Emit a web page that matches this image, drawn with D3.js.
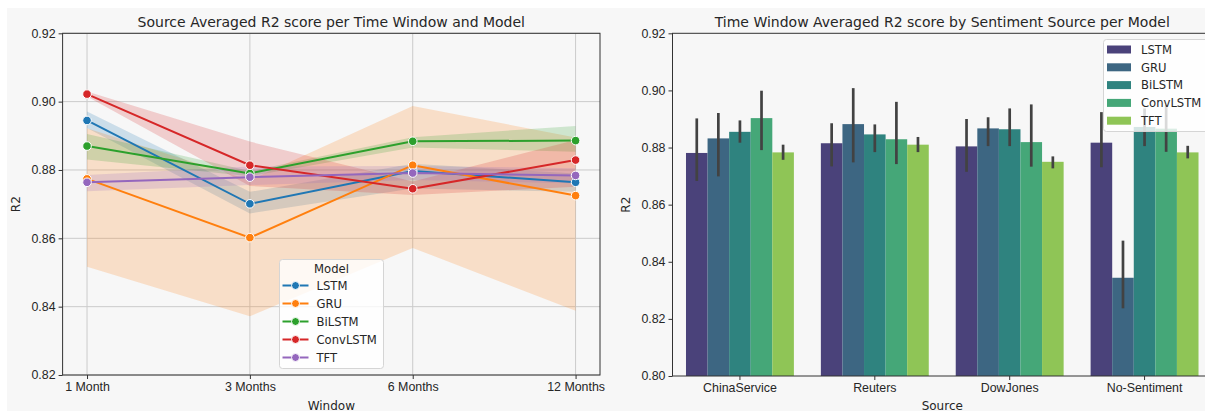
<!DOCTYPE html>
<html>
<head>
<meta charset="utf-8">
<script src="https://cdn.jsdelivr.net/npm/d3@7"></script>
<style>
  body { margin: 0; background: #ffffff; }
  svg { display: block; font-family: "DejaVu Sans", sans-serif; }
  .tick text { fill: #262626; font-size: 12.4px; }
  .domain, .tick line { stroke: #333; }
</style>
</head>
<body>
<div id="chart"></div>
<script>
// ---- left chart data (mean + ci band per model and time window)
var windows = ["1 Month", "3 Months", "6 Months", "12 Months"];
var models = ["LSTM", "GRU", "BiLSTM", "ConvLSTM", "TFT"];
var lineColors = ["#1f77b4", "#ff7f0e", "#2ca02c", "#d62728", "#9467bd"];

var lineMean = [
  [0.8945, 0.8701, 0.8797, 0.8764],
  [0.8774, 0.8602, 0.8814, 0.8725],
  [0.8870, 0.8790, 0.8884, 0.8886],
  [0.9022, 0.8814, 0.8745, 0.8829],
  [0.8764, 0.8779, 0.8791, 0.8784]
];
var lineLo = [
  [0.8923, 0.8673, 0.8746, 0.8736],
  [0.8517, 0.8372, 0.8572, 0.8388],
  [0.8831, 0.8782, 0.8866, 0.8853],
  [0.9015, 0.8753, 0.8727, 0.8751],
  [0.8738, 0.8756, 0.8771, 0.8761]
];
var lineHi = [
  [0.8971, 0.8736, 0.8818, 0.8790],
  [0.8922, 0.8770, 0.8987, 0.8895],
  [0.8905, 0.8797, 0.8896, 0.8929],
  [0.9030, 0.8883, 0.8766, 0.8888],
  [0.8785, 0.8810, 0.8812, 0.8805]
];

// ---- right chart data (bars + error bars per source and model)
var sources = ["ChinaService", "Reuters", "DowJones", "No-Sentiment"];
var barMean = [
  [0.8781, 0.8815, 0.8804, 0.8817],
  [0.8832, 0.8882, 0.8867, 0.8344],
  [0.8855, 0.8846, 0.8864, 0.8872],
  [0.8903, 0.8829, 0.8819, 0.8866],
  [0.8783, 0.8810, 0.8750, 0.8783]
];
var barLo = [
  [0.8683, 0.8734, 0.8715, 0.8731],
  [0.8699, 0.8748, 0.8805, 0.8237],
  [0.8817, 0.8784, 0.8805, 0.8805],
  [0.8791, 0.8742, 0.8733, 0.8785],
  [0.8757, 0.8784, 0.8727, 0.8762]
];
var barHi = [
  [0.8902, 0.8885, 0.8900, 0.8924],
  [0.8921, 0.9008, 0.8906, 0.8474],
  [0.8895, 0.8881, 0.8937, 0.8937],
  [0.8999, 0.8960, 0.8951, 0.8949],
  [0.8810, 0.8837, 0.8769, 0.8806]
];

var leftTicks = [0.82, 0.84, 0.86, 0.88, 0.90, 0.92];
var rightTicks = [0.80, 0.82, 0.84, 0.86, 0.88, 0.90, 0.92];

// viridis palette, desaturated like seaborn bars
var barColors = models.map(function(m, i) {
  var c = d3.hsl(d3.interpolateViridis((i + 1) / 6));
  c.s = c.s * 0.75;
  return c.formatHex();
});

var W = 1205, H = 411;
var svg = d3.select("#chart").append("svg").attr("width", W).attr("height", H);

svg.append("rect").attr("x", 7).attr("y", 8).attr("width", W - 7).attr("height", H - 8)
  .attr("fill", "#f7f7f7");

// =========== left: line chart ===========
var L = {left: 62.6, right: 600, top: 33.3, bottom: 375};
var x1 = d3.scalePoint().domain(windows).range([L.left, L.right]).padding(0.15);
var y1 = d3.scaleLinear().domain([0.82, 0.92]).range([L.bottom, L.top]);

var g1 = svg.append("g");

// grid
g1.selectAll(".gy").data(leftTicks).enter().append("line")
  .attr("x1", L.left).attr("x2", L.right)
  .attr("y1", function(d){ return y1(d); }).attr("y2", function(d){ return y1(d); })
  .attr("stroke", "#cbcbcb").attr("stroke-width", 1);
g1.selectAll(".gx").data(windows).enter().append("line")
  .attr("x1", function(d){ return x1(d); }).attr("x2", function(d){ return x1(d); })
  .attr("y1", L.top).attr("y2", L.bottom)
  .attr("stroke", "#cbcbcb").attr("stroke-width", 1);

var area = d3.area()
  .x(function(d, i){ return x1(windows[i]); })
  .y0(function(d){ return y1(d[0]); })
  .y1(function(d){ return y1(d[1]); });

models.forEach(function(m, k) {
  var band = windows.map(function(w, i){ return [lineLo[k][i], lineHi[k][i]]; });
  g1.append("path").datum(band).attr("d", area)
    .attr("fill", lineColors[k]).attr("fill-opacity", 0.2);
});

var line = d3.line().x(function(d, i){ return x1(windows[i]); }).y(function(d){ return y1(d); });

models.forEach(function(m, k) {
  g1.append("path").datum(lineMean[k]).attr("d", line)
    .attr("fill", "none").attr("stroke", lineColors[k]).attr("stroke-width", 2);
  g1.selectAll(".pt" + k).data(lineMean[k]).enter().append("circle")
    .attr("cx", function(d, i){ return x1(windows[i]); })
    .attr("cy", function(d){ return y1(d); })
    .attr("r", 4.3)
    .attr("fill", lineColors[k]).attr("stroke", "#fff").attr("stroke-width", 1);
});

// frame + axes
g1.append("rect").attr("x", L.left).attr("y", L.top)
  .attr("width", L.right - L.left).attr("height", L.bottom - L.top)
  .attr("fill", "none").attr("stroke", "#333").attr("stroke-width", 1);

var ax1 = g1.append("g").attr("transform", "translate(0," + L.bottom + ")")
  .call(d3.axisBottom(x1).tickSize(4).tickPadding(3));
ax1.select(".domain").remove();
var ay1 = g1.append("g").attr("transform", "translate(" + L.left + ",0)")
  .call(d3.axisLeft(y1).tickValues(leftTicks).tickFormat(d3.format(".2f")).tickSize(4).tickPadding(3));
ay1.select(".domain").remove();

svg.append("text").attr("x", (L.left + L.right) / 2).attr("y", 27)
  .attr("text-anchor", "middle").attr("font-size", 14).attr("fill", "#262626")
  .text("Source Averaged R2 score per Time Window and Model");
svg.append("text").attr("x", (L.left + L.right) / 2).attr("y", 409.5)
  .attr("text-anchor", "middle").attr("font-size", 12).attr("fill", "#262626").text("Window");
svg.append("text").attr("transform", "translate(20," + (L.top + L.bottom) / 2 + ") rotate(-90)")
  .attr("text-anchor", "middle").attr("font-size", 12).attr("fill", "#262626").text("R2");

// legend left
var lg1 = svg.append("g").attr("transform", "translate(279.5,259.5)");
lg1.append("rect").attr("width", 104).attr("height", 109).attr("rx", 3)
  .attr("fill", "#ffffff").attr("fill-opacity", 0.8).attr("stroke", "#d5d5d5");
lg1.append("text").attr("x", 52).attr("y", 13.5).attr("text-anchor", "middle")
  .attr("font-size", 11.6).attr("fill", "#262626").text("Model");
models.forEach(function(m, k) {
  var yy = 26 + k * 18;
  lg1.append("line").attr("x1", 3).attr("x2", 29).attr("y1", yy).attr("y2", yy)
    .attr("stroke", lineColors[k]).attr("stroke-width", 2);
  lg1.append("circle").attr("cx", 16).attr("cy", yy).attr("r", 4)
    .attr("fill", lineColors[k]).attr("stroke", "#fff").attr("stroke-width", 1);
  lg1.append("text").attr("x", 37).attr("y", yy + 4.3).attr("font-size", 11.6)
    .attr("fill", "#262626").text(m);
});

// =========== right: grouped bars ===========
var R = {left: 672.5, right: 1212, top: 33.3, bottom: 376};
var x2 = d3.scaleBand().domain(sources).range([R.left, R.right]).paddingInner(0.2).paddingOuter(0.1);
var xm = d3.scaleBand().domain(models).range([0, x2.bandwidth()]);
var y2 = d3.scaleLinear().domain([0.80, 0.92]).range([R.bottom, R.top]);

var g2 = svg.append("g");

models.forEach(function(m, k) {
  g2.selectAll(".bar" + k).data(sources).enter().append("rect")
    .attr("x", function(s){ return x2(s) + xm(m); })
    .attr("y", function(s, i){ return y2(barMean[k][i]); })
    .attr("width", xm.bandwidth())
    .attr("height", function(s, i){ return R.bottom - y2(barMean[k][i]); })
    .attr("fill", barColors[k]);
});
models.forEach(function(m, k) {
  g2.selectAll(".err" + k).data(sources).enter().append("line")
    .attr("x1", function(s){ return x2(s) + xm(m) + xm.bandwidth() / 2; })
    .attr("x2", function(s){ return x2(s) + xm(m) + xm.bandwidth() / 2; })
    .attr("y1", function(s, i){ return y2(barLo[k][i]); })
    .attr("y2", function(s, i){ return y2(barHi[k][i]); })
    .attr("stroke", "#424242").attr("stroke-width", 2.7);
});

g2.append("rect").attr("x", R.left).attr("y", R.top)
  .attr("width", R.right - R.left).attr("height", R.bottom - R.top)
  .attr("fill", "none").attr("stroke", "#333").attr("stroke-width", 1);

var ax2 = g2.append("g").attr("transform", "translate(0," + R.bottom + ")")
  .call(d3.axisBottom(x2).tickSize(4).tickPadding(3));
ax2.select(".domain").remove();
var ay2 = g2.append("g").attr("transform", "translate(" + R.left + ",0)")
  .call(d3.axisLeft(y2).tickValues(rightTicks).tickFormat(d3.format(".2f")).tickSize(4).tickPadding(3));
ay2.select(".domain").remove();

svg.append("text").attr("x", (R.left + R.right) / 2).attr("y", 27)
  .attr("text-anchor", "middle").attr("font-size", 14).attr("fill", "#262626")
  .text("Time Window Averaged R2 score by Sentiment Source per Model");
svg.append("text").attr("x", (R.left + R.right) / 2).attr("y", 409.5)
  .attr("text-anchor", "middle").attr("font-size", 12).attr("fill", "#262626").text("Source");
svg.append("text").attr("transform", "translate(630," + (R.top + R.bottom) / 2 + ") rotate(-90)")
  .attr("text-anchor", "middle").attr("font-size", 12).attr("fill", "#262626").text("R2");

// legend right
var lg2 = svg.append("g").attr("transform", "translate(1103.5,39.5)");
lg2.append("rect").attr("width", 110).attr("height", 92).attr("rx", 3)
  .attr("fill", "#ffffff").attr("fill-opacity", 0.8).attr("stroke", "#d5d5d5");
models.forEach(function(m, k) {
  var yy = 10 + k * 17.8;
  lg2.append("rect").attr("x", 3.5).attr("y", yy - 4).attr("width", 24).attr("height", 8)
    .attr("fill", barColors[k]);
  lg2.append("text").attr("x", 37.5).attr("y", yy + 4.3).attr("font-size", 11.6)
    .attr("fill", "#262626").text(m);
});
</script>
</body>
</html>
